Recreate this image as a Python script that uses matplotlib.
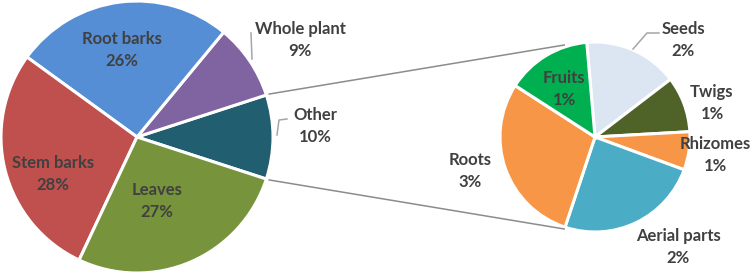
import numpy as np
import matplotlib
matplotlib.use("Agg")
import matplotlib.pyplot as plt

# main pie (percent of all records)
main_labels = ["Other", "Whole plant", "Root barks", "Stem barks", "Leaves"]
main_values = [10, 9, 26, 28, 27]
main_colors = ["#215F70", "#8064A2", "#558ED5", "#C0504D", "#77933C"]

# breakdown of "Other"
sub_labels = ["Seeds", "Twigs", "Rhizomes", "Aerial parts", "Roots", "Fruits"]
sub_values = [1.6, 0.95, 0.65, 2.45, 2.9, 1.45]
sub_colors = ["#DCE6F2", "#4F6228", "#F79646", "#4BACC6", "#F79646", "#00B050"]

W, H = 754, 277
fig = plt.figure(figsize=(W / 100, H / 100), dpi=100)
ax = fig.add_axes([0, 0, 1, 1])

c1, r1 = (137, H - 137), 136
c2, r2 = (595, H - 137), 95
wp = dict(edgecolor="white", linewidth=2.2)

other_angle = main_values[0] / sum(main_values) * 360
ax.pie(main_values, colors=main_colors, center=c1, radius=r1,
       startangle=-other_angle / 2, counterclock=True, wedgeprops=wp)
ax.pie(sub_values, colors=sub_colors, center=c2, radius=r2,
       startangle=95, counterclock=False, wedgeprops=wp)

ax.set_xlim(0, W)
ax.set_ylim(0, H)
ax.set_aspect("equal")
ax.axis("off")

# connector lines from the "Other" slice to the second pie
line_col = "#8C8C8C"
for sgn in (1, -1):
    a1 = np.radians(sgn * other_angle / 2)
    a2 = np.radians(sgn * 108.5)
    p1 = (c1[0] + (r1 + 3) * np.cos(a1), c1[1] + (r1 + 3) * np.sin(a1))
    p2 = (c2[0] + (r2 + 2) * np.cos(a2), c2[1] + (r2 + 2) * np.sin(a2))
    ax.plot([p1[0], p2[0]], [p1[1], p2[1]], color=line_col, lw=1.1)

# label positions in pixels (x, y from top)
main_pos = {"Other": (315, 126), "Whole plant": (300, 40), "Root barks": (122, 50),
            "Stem barks": (53, 174), "Leaves": (157, 201)}
sub_pos = {"Seeds": (683, 40), "Twigs": (712, 103), "Rhizomes": (715, 155),
           "Aerial parts": (678, 247), "Roots": (470, 171), "Fruits": (564, 89)}

txt = dict(ha="center", va="center", fontsize=12, fontweight="bold",
           color="#404040", family=["Lato", "DejaVu Sans"], linespacing=1.45)
for lab, v in zip(main_labels, main_values):
    x, y = main_pos[lab]
    ax.text(x, H - y, f"{lab}\n{round(v)}%", **txt)
for lab, v in zip(sub_labels, sub_values):
    x, y = sub_pos[lab]
    ax.text(x, H - y, f"{lab}\n{round(v)}%", **txt)

# leader lines
leaders = [[(251, 33), (252, 59)],
           [(287, 119), (279, 120), (277, 135)],
           [(659, 33), (647, 33), (633, 49)]]
for pts in leaders:
    xs = [p[0] for p in pts]
    ys = [H - p[1] for p in pts]
    ax.plot(xs, ys, color="#A6A6A6", lw=1.1)

fig.savefig("out.png", dpi=100)
